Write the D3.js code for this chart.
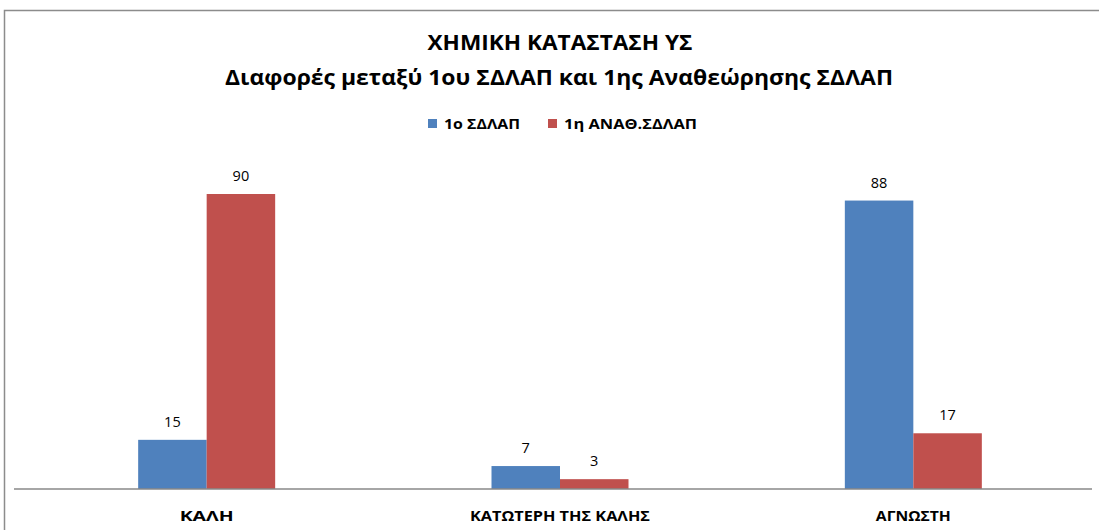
<!DOCTYPE html>
<html><head><meta charset="utf-8">
<script src="https://cdn.jsdelivr.net/npm/d3@7"></script>
<style>body{margin:0;background:#fff;} svg{display:block;}</style>
</head><body>
<script>
const categories = ["ΚΑΛΗ", "ΚΑΤΩΤΕΡΗ ΤΗΣ ΚΑΛΗΣ", "ΑΓΝΩΣΤΗ"];
const seriesNames = ["1ο ΣΔΛΑΠ", "1η ΑΝΑΘ.ΣΔΛΑΠ"];
const series1 = [15, 7, 88];
const series2 = [90, 3, 17];
const colors = ["#4F81BD", "#C0504D"];
const titleLines = ["ΧΗΜΙΚΗ ΚΑΤΑΣΤΑΣΗ ΥΣ", "Διαφορές μεταξύ 1ου ΣΔΛΑΠ και 1ης Αναθεώρησης ΣΔΛΑΠ"];

const W = 1099, H = 530;
const font = "'Open Sans', 'Noto Sans', sans-serif";
const svg = d3.select("body").append("svg").attr("width", W).attr("height", H);

// chart border
svg.append("rect").attr("x", 4.5).attr("y", 10.5).attr("width", W + 10).attr("height", H + 10)
  .attr("fill", "#fff").attr("stroke", "#8c8c8c").attr("stroke-width", 1.5);

const baseY = 489;
const y = d3.scaleLinear().domain([0, 90]).range([baseY, 194]);
const x = d3.scaleBand().domain(categories).range([30, 1090]).padding(0);
const sub = d3.scaleBand().domain(seriesNames).range([0, 137]);

// titles
svg.append("text").attr("x", 560).attr("y", 50).attr("text-anchor", "middle")
  .attr("font-family", font).attr("font-weight", "bold").attr("font-size", 20.5)
  .attr("textLength", 265).attr("lengthAdjust", "spacingAndGlyphs")
  .attr("fill", "#000").text(titleLines[0]);
svg.append("text").attr("x", 559).attr("y", 85).attr("text-anchor", "middle")
  .attr("font-family", font).attr("font-weight", "bold").attr("font-size", 20.5)
  .attr("textLength", 668).attr("lengthAdjust", "spacingAndGlyphs")
  .attr("fill", "#000").text(titleLines[1]);

// legend
const legendItems = [{sx: 428, tx: 444, tw: 76}, {sx: 548, tx: 564, tw: 133}];
seriesNames.forEach((n, i) => {
  const L = legendItems[i];
  svg.append("rect").attr("x", L.sx).attr("y", 119).attr("width", 9).attr("height", 9).attr("fill", colors[i]);
  svg.append("text").attr("x", L.tx).attr("y", 129).attr("font-family", font).attr("font-weight", "bold")
    .attr("font-size", 13.5).attr("textLength", L.tw).attr("lengthAdjust", "spacingAndGlyphs")
    .attr("fill", "#000").text(n);
});

// bars
const data = categories.map((c, i) => ({c, vals: [series1[i], series2[i]]}));
const groups = svg.append("g").selectAll("g").data(data).join("g")
  .attr("transform", d => `translate(${x(d.c) + x.bandwidth() / 2 - 68.5},0)`);
groups.selectAll("rect").data(d => d.vals.map((v, i) => ({v, i}))).join("rect")
  .attr("x", d => sub(seriesNames[d.i])).attr("width", sub.bandwidth())
  .attr("y", d => y(d.v)).attr("height", d => baseY - y(d.v)).attr("fill", d => colors[d.i]);
groups.selectAll("text").data(d => d.vals.map((v, i) => ({v, i}))).join("text")
  .attr("x", d => sub(seriesNames[d.i]) + sub.bandwidth() / 2).attr("y", d => y(d.v) - 13)
  .attr("text-anchor", "middle").attr("font-family", font).attr("font-size", 14.5).attr("fill", "#000")
  .text(d => d.v);

// axis
const labelWidths = [54, 180, 75];
const axis = d3.axisBottom(x).tickSize(0).tickPadding(20);
const ag = svg.append("g").attr("transform", `translate(0,${baseY})`).call(axis);
ag.select(".domain").attr("stroke", "#888").attr("stroke-width", 1.5).attr("d", "M14,0H1092");
ag.selectAll("text").attr("font-family", font).attr("font-weight", "bold").attr("font-size", 14.5)
  .attr("fill", "#000").attr("dy", "0.85em")
  .attr("textLength", (d, i) => labelWidths[i]).attr("lengthAdjust", "spacingAndGlyphs");
</script>
</body></html>
